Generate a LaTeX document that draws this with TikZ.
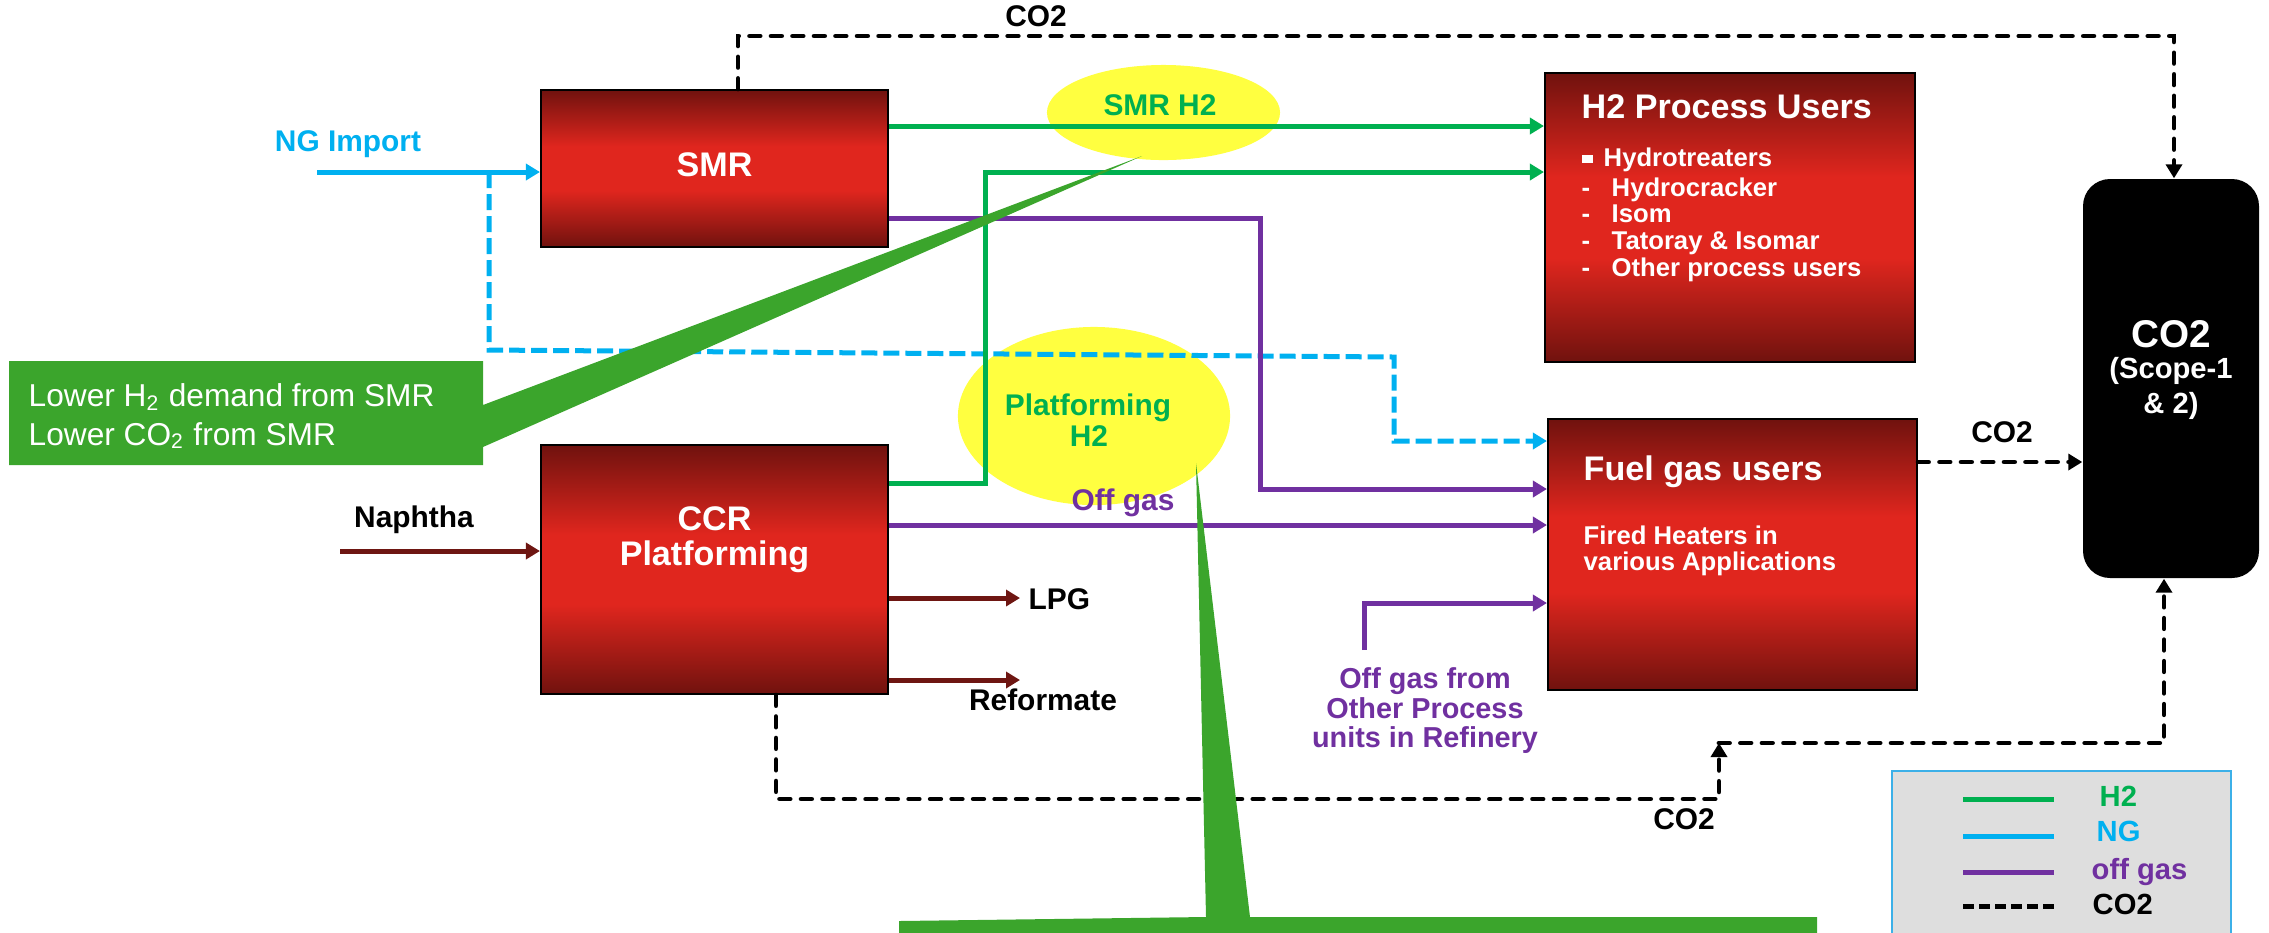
\documentclass[tikz,border=0pt]{standalone}
\usepackage{fontspec}
\setmainfont{Liberation Sans}
\usetikzlibrary{arrows.meta,fit,shapes.geometric}
\definecolor{ngblue}{RGB}{0,176,240}
\definecolor{h2green}{RGB}{0,176,80}
\definecolor{offpurple}{RGB}{112,48,160}
\definecolor{feedred}{RGB}{110,22,18}
\definecolor{boxdark}{RGB}{112,18,14}
\definecolor{boxbright}{RGB}{224,38,30}
\definecolor{callgreen}{RGB}{59,165,44}
\definecolor{hiyellow}{RGB}{255,255,64}
\definecolor{leggray}{RGB}{222,222,222}
\definecolor{legblue}{RGB}{60,176,232}
\pgfdeclareverticalshading{procshade}{100bp}{color(0bp)=(boxdark); color(25bp)=(boxdark); color(43bp)=(boxbright); color(57bp)=(boxbright); color(75bp)=(boxdark); color(100bp)=(boxdark)}
\tikzset{
  procbox/.style={draw=black, line width=0.6pt, shading=procshade, inner sep=0pt},
  flow/.style={line width=0.05cm},
  arrowend/.style={-{Triangle[length=0.14cm,width=0.16cm]}},
  h2line/.style={flow, draw=h2green},
  ngline/.style={flow, draw=ngblue},
  ngdash/.style={flow, draw=ngblue, dash pattern=on 0.16cm off 0.06cm},
  offline/.style={flow, draw=offpurple},
  feedline/.style={flow, draw=feedred},
  co2dash/.style={line width=0.048cm, draw=black, line cap=round, dash pattern=on 0.105cm off 0.11cm},
  boxtitle/.style={text=white, font=\bfseries\fontsize{9.7}{11}\selectfont, inner sep=0pt},
  boxitem/.style={text=white, font=\bfseries\fontsize{7.3}{8}\selectfont, inner sep=0pt, anchor=base west},
  lbl/.style={font=\bfseries\fontsize{8.5}{9}\selectfont, inner sep=0pt, anchor=base},
  smalllbl/.style={font=\bfseries\fontsize{8.2}{9}\selectfont, inner sep=0pt, anchor=base},
  legtxt/.style={font=\bfseries\fontsize{8.3}{9}\selectfont, inner sep=0pt, anchor=base west},
  calltxt/.style={text=white, font=\fontsize{9}{10}\selectfont, inner sep=0pt, anchor=base west},
}
\begin{document}
\begin{tikzpicture}[x=0.01cm,y=-0.01cm]
\useasboundingbox (0,0) rectangle (2269,932);
% highlight ellipses
\node[ellipse, fill=hiyellow, inner sep=0pt, minimum width=2.33cm, minimum height=0.95cm] (smrh2) at (1163.5,112.5) {};
\node[ellipse, fill=hiyellow, inner sep=0pt, minimum width=2.72cm, minimum height=1.78cm] (plath2) at (1094,416) {};
% boxes
\node[procbox, fit={(541,90)(888,247)}] (smr) {};
\node[procbox, fit={(541,445)(888,694)}] (ccr) {};
\node[procbox, fit={(1545,73)(1915,362)}] (h2u) {};
\node[procbox, fit={(1548,419)(1917,690)}] (fuel) {};
\node[fill=black, rounded corners=0.27cm, inner sep=0pt, fit={(2083,179)(2259,578)}] (co2) {};
\node[fill=leggray, draw=legblue, line width=0.6pt, inner sep=0pt, fit={(1892,771)(2231,945)}] (legend) {};
% levels and columns
\coordinate (lvA) at (0,126);
\coordinate (lvB) at (0,172);
\coordinate (lvC) at (0,218);
\coordinate (lvD) at (0,483);
\coordinate (lvE) at (0,489);
\coordinate (lvF) at (0,525);
\coordinate (lvG) at (0,603);
\coordinate (lvK) at (0,462);
\coordinate (lvT) at (0,36);
\coordinate (lvM) at (0,799);
\coordinate (lvN) at (0,743);
\coordinate (cxA) at (985,0);
\coordinate (cxB) at (1260,0);
\coordinate (cxF) at (738,0);
\coordinate (cxG) at (2174,0);
\coordinate (cxH) at (776,0);
\coordinate (cxI) at (1719,0);
\coordinate (cxJ) at (2164,0);
% free ends
\coordinate (ngsrc) at (317,172);
\coordinate (ngtap) at (489,172);
\coordinate (ngb1) at (489,350);
\coordinate (ngb2) at (1394,357);
\coordinate (ngb3) at (1394,441);
\coordinate (othersrc) at (1364,650);
\coordinate (lpgend) at (1020,598);
\coordinate (refend) at (1020,680);
\coordinate (naphsrc) at (340,551);
% NG
\draw[ngline, arrowend] (ngsrc) -- (ngsrc -| smr.west);
\draw[ngdash, arrowend] (ngtap) -- (ngb1) -- (ngb2) -- (ngb3) -- (ngb3 -| fuel.west);
% H2
\draw[h2line, arrowend] (smr.east |- lvA) -- (h2u.west |- lvA);
\draw[h2line, arrowend] (ccr.east |- lvD) -- (cxA |- lvD) -- (cxA |- lvB) -- (h2u.west |- lvB);
% off gas
\draw[offline, arrowend] (smr.east |- lvC) -- (cxB |- lvC) -- (cxB |- lvE) -- (fuel.west |- lvE);
\draw[offline, arrowend] (ccr.east |- lvF) -- (fuel.west |- lvF);
\draw[offline, arrowend] (othersrc) -- (othersrc |- lvG) -- (fuel.west |- lvG);
% feed / products
\draw[feedline, arrowend] (naphsrc) -- (naphsrc -| ccr.west);
\draw[feedline, arrowend] (ccr.east |- lpgend) -- (lpgend);
\draw[feedline, arrowend] (ccr.east |- refend) -- (refend);
% CO2
\draw[co2dash, arrowend] (cxF |- smr.north) -- (cxF |- lvT) -- (cxG |- lvT) -- (cxG |- co2.north);
\draw[co2dash, arrowend] (fuel.east |- lvK) -- (co2.west |- lvK);
\draw[co2dash, arrowend] (cxH |- ccr.south) -- (cxH |- lvM) -- (cxI |- lvM) -- (cxI |- lvN);
\draw[co2dash, arrowend] (cxI |- lvN) -- (cxJ |- lvN) -- (cxJ |- co2.south);
% callouts
\fill[callgreen] (9,361) -- (483,361) -- (483,405) -- (1142,156) -- (483,447) -- (483,465) -- (9,465) -- cycle;
\fill[callgreen] (899,921) -- (1206,917) -- (1196,463) -- (1250,917) -- (1817,917) -- (1817,945) -- (899,945) -- cycle;
\node[calltxt] (call1a) at (28,406.7) {Lower H\textsubscript{2} demand from SMR};
\node[calltxt] (call1b) at (28,445) {Lower CO\textsubscript{2} from SMR};
% legend
\draw[h2line] (1963,799) -- (2054,799);
\draw[ngline] (1963,836) -- (2054,836);
\draw[offline] (1963,872) -- (2054,872);
\draw[line width=0.05cm, dash pattern=on 0.11cm off 0.05cm] (1963,906) -- (2054,906);
\node[legtxt, text=h2green] (legh2) at (2099,806) {H2};
\node[legtxt, text=ngblue] (legng) at (2096,841) {NG};
\node[legtxt, text=offpurple] (legoff) at (2091,879) {off gas};
\node[legtxt] (legco2) at (2092,914) {CO2};
% box texts
\node[boxtitle, anchor=base] (smrtxt) at (714.5,176.7) {SMR};
\node[boxtitle, anchor=base] (ccrtxt1) at (714.5,530) {CCR};
\node[boxtitle, anchor=base] (ccrtxt2) at (714.5,565.7) {Platforming};
\node[boxtitle, anchor=base west] (h2utxt) at (1581,118.3) {H2 Process Users};
\node[fill=white, minimum width=0.11cm, minimum height=0.08cm, inner sep=0pt, anchor=west] (h2ud1) at (1581,159) {};
\node[boxitem] (h2ui1) at (1603,166.7) {Hydrotreaters};
\node[boxitem] (h2ud2) at (1581,196) {-};
\node[boxitem] (h2ui2) at (1611,196) {Hydrocracker};
\node[boxitem] (h2ud3) at (1581,222.7) {-};
\node[boxitem] (h2ui3) at (1611,222.7) {Isom};
\node[boxitem] (h2ud4) at (1581,249.3) {-};
\node[boxitem] (h2ui4) at (1611,249.3) {Tatoray \& Isomar};
\node[boxitem] (h2ud5) at (1581,276) {-};
\node[boxitem] (h2ui5) at (1611,276) {Other process users};
\node[boxtitle, anchor=base west] (fueltxt) at (1583,480) {Fuel gas users};
\node[boxitem] (fuelsub1) at (1583,544) {Fired Heaters in};
\node[boxitem] (fuelsub2) at (1583,570) {various Applications};
\node[text=white, font=\bfseries\fontsize{11}{12}\selectfont, inner sep=0pt, anchor=base] (co2txt) at (2171,347) {CO2};
\node[text=white, font=\bfseries\fontsize{8.3}{9}\selectfont, inner sep=0pt, anchor=base] (co2s1) at (2171,378) {(Scope-1};
\node[text=white, font=\bfseries\fontsize{8.3}{9}\selectfont, inner sep=0pt, anchor=base] (co2s2) at (2171,413) {\& 2)};
% labels
\node[lbl] (co2top) at (1036,26.7) {CO2};
\node[lbl, text=ngblue] (nglbl) at (348,151.7) {NG Import};
\node[lbl, text=h2green] (smrh2txt) at (1160,115.7) {SMR H2};
\node[lbl, text=h2green] (plat1) at (1088,415) {Platforming};
\node[lbl, text=h2green] (plat2) at (1089,446) {H2};
\node[lbl, text=offpurple] (offlbl) at (1123,510) {Off gas};
\node[lbl] (naphlbl) at (414,527) {Naphtha};
\node[lbl, anchor=base west] (lpg) at (1028,609) {LPG};
\node[lbl] (reflbl) at (1043,710) {Reformate};
\node[lbl] (co2mid) at (2002,442.7) {CO2};
\node[lbl] (co2low) at (1684,829) {CO2};
\node[smalllbl, text=offpurple] (oth1) at (1425,688) {Off gas from};
\node[smalllbl, text=offpurple] (oth2) at (1425,718) {Other Process};
\node[smalllbl, text=offpurple] (oth3) at (1425,747) {units in Refinery};
\end{tikzpicture}
\end{document}
